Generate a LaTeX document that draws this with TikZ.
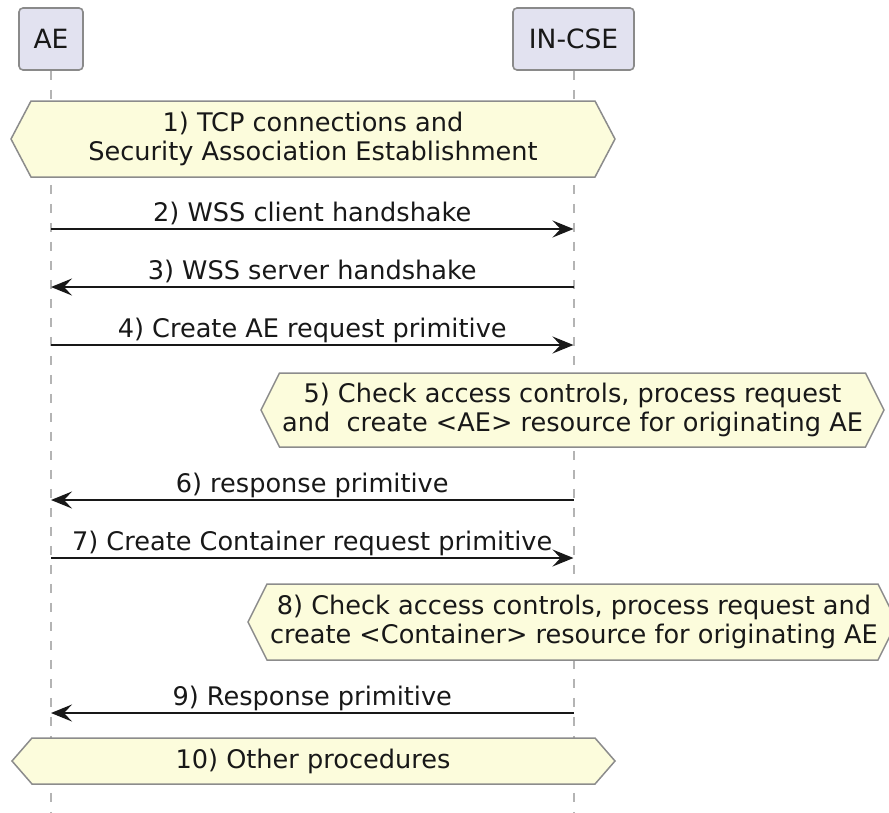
\documentclass[tikz,border=0pt]{standalone}
\usepackage{fontspec}
\setmainfont{DejaVu Sans}
\usetikzlibrary{arrows.meta}
\definecolor{partfill}{HTML}{E2E2F0}
\definecolor{partdraw}{HTML}{8A8A8A}
\definecolor{notefill}{HTML}{FCFCDC}
\definecolor{notedraw}{HTML}{8C8C8C}
\definecolor{lifecol}{HTML}{B4B4B4}
\definecolor{ink}{HTML}{181818}
\newcommand{\hexshape}[5]{%
  \draw[hexnote] (#1,{(#3+#4)/2}) -- (#1+#5,#3) -- (#2-#5,#3) -- (#2,{(#3+#4)/2}) -- (#2-#5,#4) -- (#1+#5,#4) -- cycle;}
\begin{document}
\begin{tikzpicture}[x=1pt,y=-1pt,
  participant/.style={draw=partdraw, fill=partfill, line width=1.6pt, rounded corners=4pt, minimum height=62pt, inner sep=0pt, font=\fontsize{26.5}{30}\selectfont, text=ink},
  lifelinestyle/.style={draw=lifecol, line width=2pt, dash pattern=on 9.5pt off 9.5pt},
  msg/.style={draw=ink, line width=1.9pt, -{Stealth[length=21pt,width=17pt,inset=8pt]}},
  msglabel/.style={anchor=base, font=\fontsize{25.6}{29.5}\selectfont, text=ink, inner sep=0pt, yshift=8pt},
  hexnote/.style={draw=notedraw, fill=notefill, line width=1.5pt, line join=miter},
  notetext/.style={align=center, font=\fontsize{25.6}{29.5}\selectfont, text=ink, inner sep=0pt}
]
\useasboundingbox (0,0) rectangle (889,812);
\clip (0,0) rectangle (889,812);
% participants
\node[participant, minimum width=64pt] (AE) at (51,39) {AE};
\node[participant, minimum width=121pt] (CSE) at (573.5,39) {IN-CSE};
\coordinate (AEend) at (51,812);
\coordinate (CSEend) at (573.5,812);
\draw[lifelinestyle] (AE.south) -- (AEend);
\draw[lifelinestyle] (CSE.south) -- (CSEend);
% 1
\hexshape{11}{615}{101}{177}{20}
\node[notetext] (n1) at (313,139) {1) TCP connections and\\Security Association Establishment};
% messages
\coordinate (a2) at (51,229); \coordinate (c2) at (573.5,229);
\draw[msg] (a2) -- (c2);
\path (a2) -- (c2) node[midway, msglabel] (l2) {2) WSS client handshake};
\coordinate (a3) at (51,287); \coordinate (c3) at (573.5,287);
\draw[msg] (c3) -- (a3);
\path (a3) -- (c3) node[midway, msglabel] (l3) {3) WSS server handshake};
\coordinate (a4) at (51,345); \coordinate (c4) at (573.5,345);
\draw[msg] (a4) -- (c4);
\path (a4) -- (c4) node[midway, msglabel] (l4) {4) Create AE request primitive};
% 5
\hexshape{261}{884}{373}{447}{18.5}
\node[notetext] (n5) at (572.5,410) {5) Check access controls, process request\\and \ create <AE> resource for originating AE};
\coordinate (a6) at (51,500); \coordinate (c6) at (573.5,500);
\draw[msg] (c6) -- (a6);
\path (a6) -- (c6) node[midway, msglabel] (l6) {6) response primitive};
\coordinate (a7) at (51,558); \coordinate (c7) at (573.5,558);
\draw[msg] (a7) -- (c7);
\path (a7) -- (c7) node[midway, msglabel] (l7) {7) Create Container request primitive};
% 8
\hexshape{248}{897}{584}{660}{19}
\node[notetext] (n8) at (574,622) {8) Check access controls, process request and\\create <Container> resource for originating AE};
\coordinate (a9) at (51,713); \coordinate (c9) at (573.5,713);
\draw[msg] (c9) -- (a9);
\path (a9) -- (c9) node[midway, msglabel] (l9) {9) Response primitive};
% 10
\hexshape{12}{615}{738}{784}{20}
\node[notetext] (n10) at (313,761) {10) Other procedures};
\end{tikzpicture}
\end{document}
